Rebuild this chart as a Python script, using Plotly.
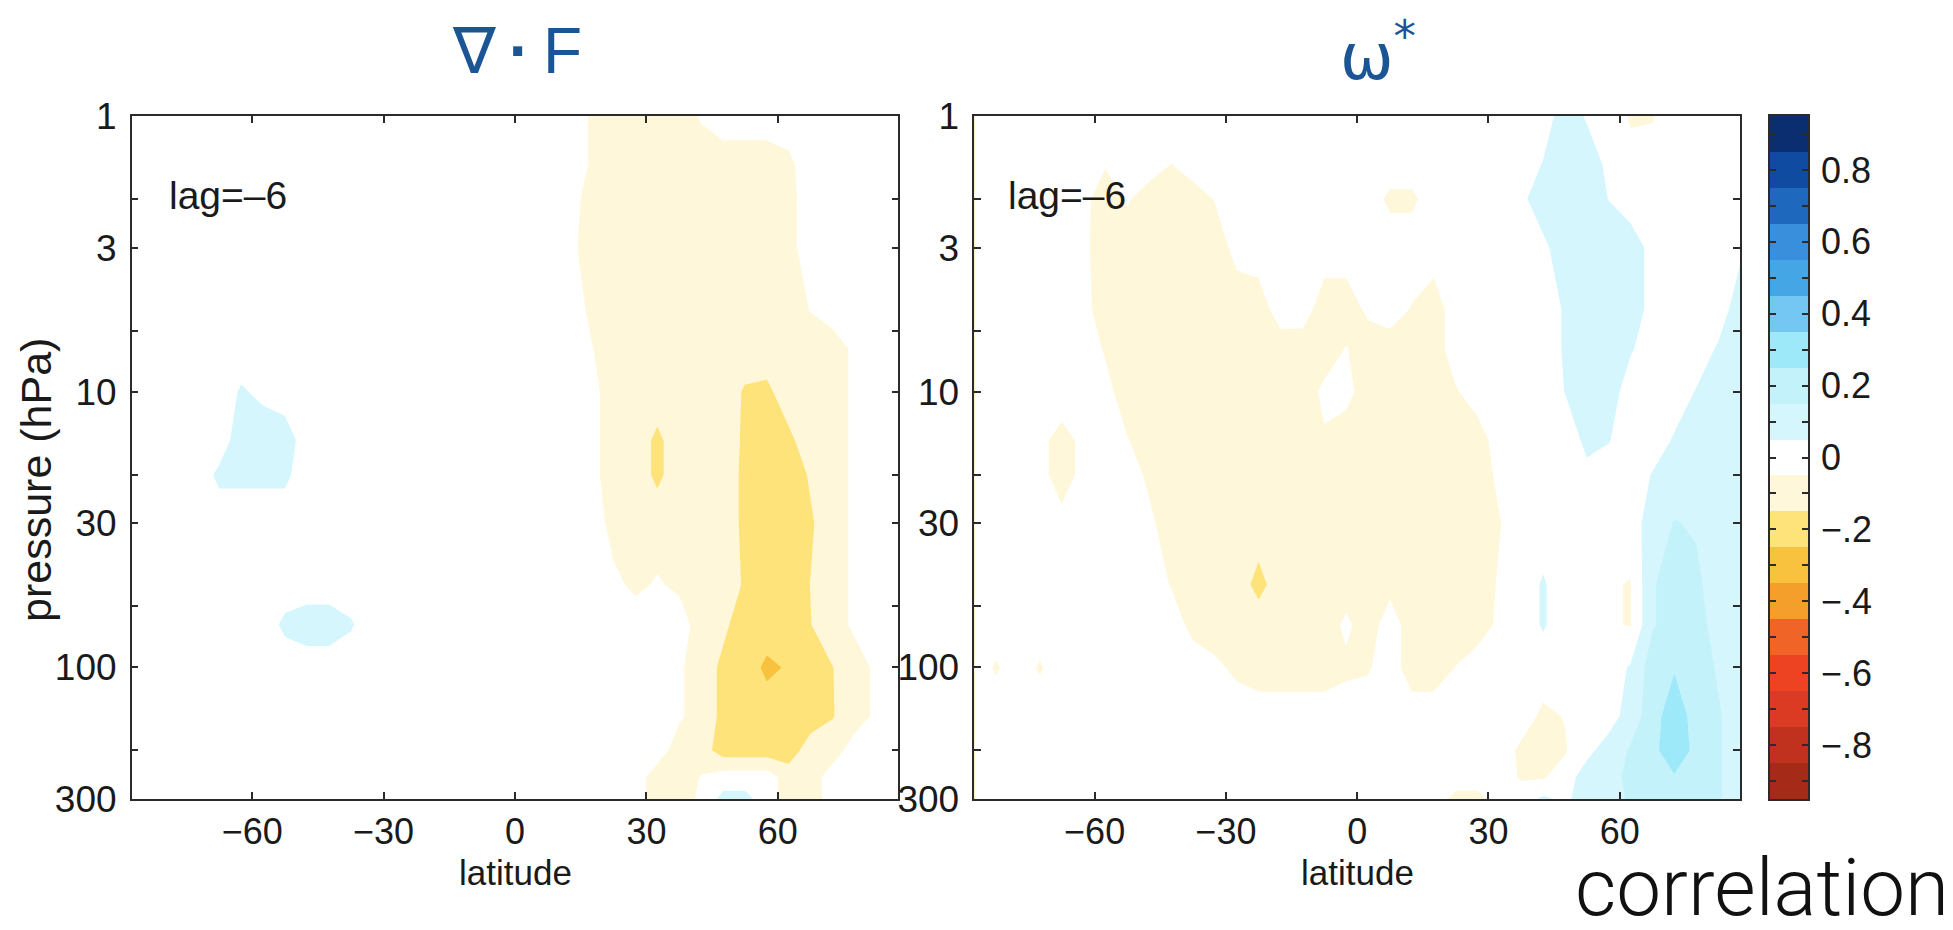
import plotly.graph_objects as go

# ---------------------------------------------------------------------------
# Data: lag-correlation fields on a latitude / pressure grid
# ---------------------------------------------------------------------------
LATITUDE = [-87.5, -82.5, -77.5, -72.5, -67.5, -62.5, -57.5, -52.5, -47.5, -42.5,
            -37.5, -32.5, -27.5, -22.5, -17.5, -12.5, -7.5, -2.5, 2.5, 7.5,
            12.5, 17.5, 22.5, 27.5, 32.5, 37.5, 42.5, 47.5, 52.5, 57.5,
            62.5, 67.5, 72.5, 77.5, 82.5, 87.5]

PRESSURE = [1, 1.5, 2, 3, 5, 7, 10, 15, 20, 30, 50, 70, 100, 150, 200, 250, 300]

# correlation of the EP-flux divergence (rows follow PRESSURE, columns LATITUDE)
DIVF_CORR = [
    [0, 0, 0, 0, 0, 0,  0, 0, 0, 0, 0, 0,  0, 0, 0, 0, 0, 0,  0, 0, 0, -.06, -.1, -.1,  -.1, -.1, -.04, 0, 0, 0,  0, 0, 0, 0, 0, 0],
    [0, 0, 0, 0, 0, 0,  0, 0, 0, 0, 0, 0,  0, 0, 0, 0, 0, 0,  0, 0, 0, -.06, -.1, -.1,  -.1, -.1, -.1, -.1, -.1, -.1,  -.07, 0, 0, 0, 0, 0],
    [0, 0, 0, 0, 0, 0,  0, 0, 0, 0, 0, 0,  0, 0, 0, 0, 0, 0,  0, 0, 0, -.1, -.1, -.1,  -.1, -.1, -.1, -.1, -.1, -.1,  -.08, 0, 0, 0, 0, 0],
    [0, 0, 0, 0, 0, 0,  0, 0, 0, 0, 0, 0,  0, 0, 0, 0, 0, 0,  0, 0, 0, -.14, -.1, -.1,  -.1, -.1, -.1, -.1, -.1, -.1,  -.08, 0, 0, 0, 0, 0],
    [0, 0, 0, 0, 0, 0,  0, 0, 0, 0, 0, 0,  0, 0, 0, 0, 0, 0,  0, 0, 0, -.07, -.1, -.1,  -.1, -.1, -.1, -.1, -.1, -.1,  -.1, -.045, 0, 0, 0, 0],
    [0, 0, 0, 0, 0, 0,  0, 0, 0, 0, 0, 0,  0, 0, 0, 0, 0, 0,  0, 0, 0, -.045, -.1, -.1,  -.1, -.1, -.1, -.1, -.1, -.1,  -.1, -.1, -.1, -.03, 0, 0],
    [0, 0, 0, 0, 0, .06,  .03, 0, 0, 0, 0, 0,  0, 0, 0, 0, 0, 0,  0, 0, 0, -.02, -.1, -.1,  -.1, -.1, -.1, -.1, -.16, -.17,  -.1, -.1, -.1, -.03, 0, 0],
    [0, 0, 0, 0, 0, .1,  .1, .1, 0, 0, 0, 0,  0, 0, 0, 0, 0, 0,  0, 0, 0, -.02, -.1, -.1,  -.17, -.1, -.1, -.1, -.165, -.2,  -.17, -.1, -.1, -.03, 0, 0],
    [0, 0, 0, 0, .07, .07,  .07, .07, 0, 0, 0, 0,  0, 0, 0, 0, 0, 0,  0, 0, 0, -.02, -.1, -.1,  -.17, -.1, -.1, -.1, -.17, -.2,  -.2, -.14, -.1, -.03, 0, 0],
    [0, 0, 0, 0, 0, 0,  0, 0, 0, 0, 0, 0,  0, 0, 0, 0, 0, 0,  0, 0, 0, 0, -.08, -.1,  -.1, -.1, -.1, -.1, -.17, -.2,  -.2, -.16, -.1, -.03, 0, 0],
    [0, 0, 0, 0, 0, 0,  0, 0, 0, 0, 0, 0,  0, 0, 0, 0, 0, 0,  0, 0, 0, 0, -.03, -.07,  -.04, -.07, -.1, -.1, -.16, -.2,  -.2, -.148, -.1, -.03, 0, 0],
    [0, 0, 0, 0, 0, 0,  0, .07, .1, .1, .06, 0,  0, 0, 0, 0, 0, 0,  0, 0, 0, 0, 0, 0,  0, 0, -.1, -.13, -.2, -.2,  -.2, -.152, -.1, -.03, 0, 0],
    [0, 0, 0, 0, 0, 0,  0, 0, 0, 0, 0, 0,  0, 0, 0, 0, 0, 0,  0, 0, 0, 0, 0, 0,  0, -.035, -.1, -.17, -.2, -.27,  -.24, -.2, -.152, -.1, -.03, 0],
    [0, 0, 0, 0, 0, 0,  0, 0, 0, 0, 0, 0,  0, 0, 0, 0, 0, 0,  0, 0, 0, 0, 0, 0,  0, -.035, -.1, -.17, -.2, -.2,  -.2, -.2, -.155, -.1, -.03, 0],
    [0, 0, 0, 0, 0, 0,  0, 0, 0, 0, 0, 0,  0, 0, 0, 0, 0, 0,  0, 0, 0, 0, 0, 0,  0, -.1, -.1, -.2, -.2, -.2,  -.2, -.1, -.1, 0, 0, 0],
    [0, 0, 0, 0, 0, 0,  0, 0, 0, 0, 0, 0,  0, 0, 0, 0, 0, 0,  0, 0, 0, 0, 0, 0,  -.1, -.1, -.045, 0, 0, 0,  -.1, -.1, 0, 0, 0, 0],
    [0, 0, 0, 0, 0, 0,  0, 0, 0, 0, 0, 0,  0, 0, 0, 0, 0, 0,  0, 0, 0, 0, 0, 0,  -.1, -.1, -.03, .08, .08, 0,  -.1, -.1, 0, 0, 0, 0],
]

# correlation of the residual vertical velocity omega*
OMEGA_CORR = [
    [0, 0, 0, 0, 0, 0,  0, 0, 0, 0, 0, 0,  0, 0, 0, 0, 0, 0,  0, 0, 0, 0, 0, 0,  0, 0, 0, .1, .04, 0,  -.06, -.055, 0, 0, 0, 0],
    [0, 0, 0, 0, 0, 0,  -.045, 0, 0, -.052, 0, 0,  0, 0, 0, 0, 0, 0,  0, 0, 0, 0, 0, 0,  0, 0, .055, .1, .1, .03,  -.02, -.02, 0, 0, 0, 0],
    [0, 0, 0, 0, 0, -.03,  -.09, -.04, -.1, -.1, -.1, -.045,  0, 0, 0, 0, 0, 0,  0, -.07, -.07, 0, 0, 0,  0, .03, .1, .1, .1, .048,  0, 0, 0, 0, 0, 0],
    [0, 0, 0, 0, 0, -.03,  -.1, -.1, -.1, -.1, -.1, -.1,  -.02, 0, 0, 0, 0, 0,  0, 0, 0, 0, 0, 0,  0, 0, .03, .1, .1, .1,  .1, .02, 0, 0, 0, .03],
    [0, 0, 0, 0, 0, -.02,  -.1, -.1, -.1, -.1, -.1, -.1,  -.1, -.1, 0, 0, -.1, -.1,  -.03, 0, -.055, -.1, 0, 0,  0, 0, 0, .06, .1, .1,  .1, .02, 0, 0, 0, .1],
    [0, 0, 0, 0, 0, 0,  -.06, -.1, -.1, -.1, -.1, -.1,  -.1, -.1, -.1, -.1, -.1, -.045,  -.1, -.1, -.1, -.1, 0, 0,  0, 0, 0, .06, .1, .1,  .06, 0, 0, 0, .06, .1],
    [0, 0, 0, 0, 0, 0,  -.02, -.1, -.1, -.1, -.1, -.1,  -.1, -.1, -.1, -.1, -.03, -.02,  -.1, -.1, -.1, -.1, -.06, 0,  0, 0, 0, .052, .1, .1,  0, 0, 0, .055, .1, .1],
    [0, 0, 0, -.03, -.08, -.03,  0, -.045, -.1, -.1, -.1, -.1,  -.1, -.1, -.1, -.1, -.06, -.1,  -.1, -.1, -.1, -.1, -.1, -.1,  0, 0, 0, 0, .07, .055,  0, 0, .06, .1, .1, .1],
    [0, 0, 0, -.03, -.08, -.03,  0, 0, -.07, -.1, -.1, -.1,  -.1, -.1, -.1, -.1, -.1, -.1,  -.1, -.1, -.1, -.1, -.1, -.1,  -.03, 0, 0, 0, .03, 0,  0, .055, .1, .1, .1, .1],
    [0, 0, 0, 0, -.03, 0,  0, 0, -.03, -.1, -.1, -.1,  -.1, -.1, -.1, -.1, -.1, -.1,  -.1, -.1, -.1, -.1, -.1, -.1,  -.055, 0, 0, 0, 0, 0,  0, .1, .155, .14, .1, .1],
    [0, 0, 0, 0, 0, 0,  0, 0, 0, -.055, -.1, -.1,  -.1, -.18, -.1, -.1, -.1, -.1,  -.1, -.08, -.1, -.1, -.1, -.1,  -.04, 0, .06, 0, 0, -.04,  -.055, .14, .2, .17, .1, .1],
    [0, 0, 0, 0, 0, 0,  0, 0, 0, 0, -.08, -.1,  -.1, -.1, -.1, -.1, -.1, -.03,  -.1, 0, -.1, -.1, -.1, -.1,  -.03, 0, .06, 0, 0, -.04,  -.055, .14, .2, .18, .12, .1],
    [0, -.06, 0, -.06, 0, 0,  0, 0, 0, 0, 0, -.03,  -.07, -.1, -.1, -.1, -.1, -.07,  -.06, 0, -.1, -.1, -.048, 0,  0, 0, 0, 0, 0, 0,  .06, .2, .24, .2, .14, .1],
    [0, 0, 0, 0, 0, 0,  0, 0, 0, 0, 0, 0,  0, 0, 0, 0, 0, 0,  0, 0, 0, 0, 0, 0,  0, 0, -.07, -.045, 0, 0,  .1, .2, .32, .2, .16, .1],
    [0, 0, 0, 0, 0, 0,  0, 0, 0, 0, 0, 0,  0, 0, 0, 0, 0, 0,  0, 0, 0, 0, 0, 0,  0, -.07, -.1, -.06, .02, .1,  .16, .22, .32, .22, .16, .1],
    [0, 0, 0, 0, 0, 0,  0, 0, 0, 0, 0, 0,  0, 0, 0, 0, 0, 0,  0, 0, 0, 0, 0, 0,  0, -.06, -.06, 0, .1, .12,  .17, .2, .24, .2, .16, .1],
    [0, 0, 0, 0, 0, 0,  0, 0, 0, 0, 0, 0,  0, 0, 0, 0, 0, 0,  0, 0, 0, 0, -.08, -.08,  0, 0, .07, .03, .1, .12,  .16, .2, .2, .2, .16, .1],
]

# discrete colour levels (centre of each 0.1-wide band)
CB_LEVELS = [-0.9, -0.8, -0.7, -0.6, -0.5, -0.4, -0.3, -0.2, -0.1, 0.0,
             0.1, 0.2, 0.3, 0.4, 0.5, 0.6, 0.7, 0.8, 0.9]
CB_COLORS = ["#A52A18", "#C0321D", "#DA3B22", "#EE4323", "#F06527", "#F49E2C",
             "#F8C13E", "#FEE37B", "#FFF7DA", "#FFFFFF", "#D5F6FC", "#C3F2FB",
             "#9DE9F9", "#74C6F3", "#45A6E6", "#3A8FDC", "#1E68BE", "#0F4BA0",
             "#0A2E70"]
CB_TICKTEXT = ["", "\u2212.8", "", "\u2212.6", "", "\u2212.4", "", "\u2212.2", "", "0",
               "", "0.2", "", "0.4", "", "0.6", "", "0.8", ""]

LAT_TICKS = [-60, -30, 0, 30, 60]
P_TICKS = [1, 2, 3, 6, 10, 20, 30, 60, 100, 200, 300]
P_TICKTEXT = ["1", "", "3", "", "10", "", "30", "", "100", "", "300"]

PANEL_TITLES = ["\u2207\u2009<b>\u00b7</b>\u2009F", "\u03c9<sup>*</sup>"]
LAG_LABEL = "lag=\u20136"

# ---------------------------------------------------------------------------
# Figure
# ---------------------------------------------------------------------------
W, H = 1953, 930
FONT = "Liberation Sans, Arial, Helvetica, sans-serif"
INK = "#1a1a1a"
TITLE_BLUE = "#1B5596"

colorscale = [[0.0, CB_COLORS[0]]]
colorscale += [[(v + 1) / 2, c] for v, c in zip(CB_LEVELS, CB_COLORS)]
colorscale += [[1.0, CB_COLORS[-1]]]


def fx(px):
    return px / W


def fy(px):
    return 1 - px / H


contour_style = dict(
    x=LATITUDE, y=PRESSURE,
    autocontour=False,
    contours=dict(start=-0.95, end=0.95, size=0.1, coloring="fill", showlines=False),
    line=dict(width=0, smoothing=0),
    colorscale=colorscale, showscale=False, hoverinfo="skip",
)

fig = go.Figure()
fig.add_trace(go.Contour(z=DIVF_CORR, xaxis="x", yaxis="y", **contour_style))
fig.add_trace(go.Contour(z=OMEGA_CORR, xaxis="x2", yaxis="y2", **contour_style))
fig.add_trace(go.Heatmap(
    z=[[v] for v in CB_LEVELS], x=[0], y=CB_LEVELS,
    xaxis="x3", yaxis="y3", colorscale=colorscale, zmin=-1, zmax=1,
    showscale=False, hoverinfo="skip",
))

ydom = [fy(799), fy(116)]
frame = dict(showline=True, linecolor="#2b2b2b", linewidth=1.5, mirror="ticks",
             ticks="inside", tickcolor="#2b2b2b", tickwidth=1.5,
             showgrid=False, zeroline=False, automargin=False,
             tickfont=dict(family=FONT, size=37, color=INK))

lat_axis = dict(frame, range=[-87.5, 87.5], tickvals=LAT_TICKS, ticklen=7,
                ticklabelstandoff=0, tickfont=dict(family=FONT, size=36, color=INK))
p_axis = dict(frame, type="log", range=[2.4771213, 0], tickvals=P_TICKS,
              ticktext=P_TICKTEXT, ticklen=7, domain=ydom, ticklabelstandoff=6)

fig.update_layout(
    width=W, height=H,
    margin=dict(l=0, r=0, t=0, b=0, autoexpand=False),
    paper_bgcolor="white", plot_bgcolor="white",
    showlegend=False,
    xaxis=dict(lat_axis, domain=[fx(131.7), fx(898.3)], anchor="y"),
    yaxis=dict(p_axis, anchor="x"),
    xaxis2=dict(lat_axis, domain=[fx(974.3), fx(1740)], anchor="y2"),
    yaxis2=dict(p_axis, anchor="x2"),
    xaxis3=dict(domain=[fx(1770), fx(1808)], range=[-0.5, 0.5], anchor="y3",
                showline=True, linecolor="#2b2b2b", linewidth=1.5, mirror=True,
                ticks="", showticklabels=False, showgrid=False, zeroline=False,
                automargin=False),
    yaxis3=dict(domain=ydom, range=[-0.95, 0.95], anchor="x3", side="right",
                tickvals=CB_LEVELS, ticktext=CB_TICKTEXT,
                showline=True, linecolor="#2b2b2b", linewidth=1.5, mirror="ticks",
                ticks="inside", ticklen=6, tickwidth=1.5, tickcolor="#2b2b2b",
                showgrid=False, zeroline=False, ticklabelstandoff=4, automargin=False,
                tickfont=dict(family=FONT, size=36, color=INK)),
)

annotations = []
panel_centres = [515.0, 1357.0]
title_centres = [517.0, 1378.0]
title_y = [51.0, 52.0]
title_fonts = [dict(family=FONT, size=64, color=TITLE_BLUE),
               dict(family="DejaVu Sans, " + FONT, size=64, color=TITLE_BLUE)]
panel_lefts = [167.0, 1006.0]
for i in range(2):
    annotations.append(dict(
        text=PANEL_TITLES[i], x=fx(title_centres[i]), y=fy(title_y[i]),
        xref="paper", yref="paper", xanchor="center", yanchor="middle",
        showarrow=False, font=title_fonts[i]))
    annotations.append(dict(
        text=LAG_LABEL, x=fx(panel_lefts[i]), y=fy(195), xref="paper", yref="paper",
        xanchor="left", yanchor="middle", showarrow=False,
        font=dict(family=FONT, size=39, color=INK)))
    annotations.append(dict(
        text="latitude", x=fx(panel_centres[i]), y=fy(872), xref="paper", yref="paper",
        xanchor="center", yanchor="middle", showarrow=False,
        font=dict(family=FONT, size=35, color=INK)))

annotations.append(dict(
    text="pressure (hPa)", x=fx(36), y=fy(480), xref="paper", yref="paper",
    xanchor="center", yanchor="middle", textangle=-90, showarrow=False,
    font=dict(family=FONT, size=43, color=INK)))

annotations.append(dict(
    text="correlation", x=fx(1573), y=fy(888), xref="paper", yref="paper",
    xanchor="left", yanchor="middle", showarrow=False,
    font=dict(family="Liberation Sans Narrow, Roboto, sans-serif", size=80,
              color="#111111", weight=300)))

fig.update_layout(annotations=annotations)

fig.write_html("out.html")
